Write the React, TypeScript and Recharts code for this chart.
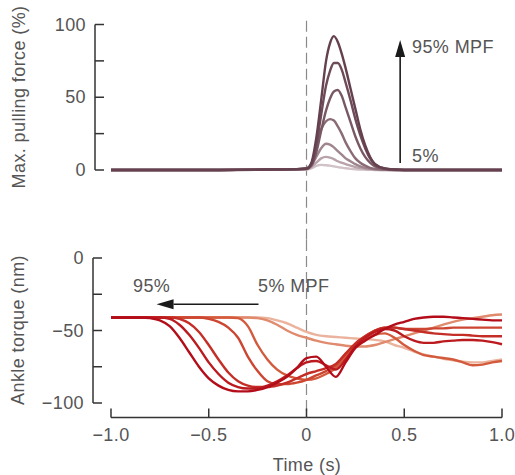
import React from 'react';
import { LineChart, Line, XAxis, YAxis, ReferenceLine } from 'recharts';

// ---- data ----
const TOP_TIMES = [-1, -0.5, -0.2, -0.05, 0, 0.025, 0.05, 0.075, 0.1, 0.12, 0.14, 0.16, 0.18, 0.2, 0.225, 0.25, 0.275, 0.3, 0.325, 0.35, 0.4, 0.45, 0.5, 0.75, 1];

// max pulling force (%) for each MPF level
const FORCE_95 = [0, 0, 0.3, 0.6, 1, 5, 22, 48, 75, 87, 92, 88, 80, 70, 56, 42, 28, 17, 9, 4, 1, 0.3, 0, 0, 0];
const FORCE_80 = [0, 0, 0.3, 0.6, 1, 4, 17, 38, 58, 68, 73.5, 73.5, 69, 60, 48, 35, 24, 15, 8, 4, 1, 0.3, 0, 0, 0];
const FORCE_65 = [0, 0, 0.3, 0.5, 0.8, 3, 12, 27, 41, 49, 54, 55, 51, 43, 33, 23, 15, 9, 5, 2.5, 0.8, 0.2, 0, 0, 0];
const FORCE_50 = [0, 0, 0.3, 0.5, 0.8, 4, 17, 28, 33.5, 35, 34, 30, 25, 19, 13, 8, 5, 3, 1.5, 0.8, 0.3, 0, 0, 0, 0];
const FORCE_35 = [0, 0, 0.2, 0.4, 0.7, 3, 9, 15, 18, 17.5, 15.5, 13, 10.5, 8, 6, 4, 2.5, 1.5, 1, 0.5, 0.2, 0, 0, 0, 0];
const FORCE_20 = [0, 0, 0.2, 0.3, 0.5, 2, 5, 8, 9, 8.5, 7.5, 6, 5, 4, 3, 2, 1.3, 0.8, 0.5, 0.3, 0, 0, 0, 0, 0];
const FORCE_5 = [0, 0, 0.1, 0.2, 0.3, 1.2, 2.8, 3.5, 3.3, 3, 2.5, 2, 1.6, 1.2, 0.8, 0.5, 0.3, 0.2, 0.1, 0, 0, 0, 0, 0, 0];

const BOTTOM_TIMES = [
  -1, -0.95, -0.9, -0.85, -0.8, -0.75, -0.7, -0.65, -0.6, -0.55, -0.5, -0.45, -0.4, -0.35, -0.3, -0.25, -0.2, -0.15, -0.1, -0.05,
  0, 0.05, 0.1, 0.15, 0.2, 0.25, 0.3, 0.35, 0.4, 0.45, 0.5, 0.55, 0.6, 0.65, 0.7, 0.75, 0.8, 0.85, 0.9, 0.95, 1,
];

// ankle torque (nm) for each MPF level
const TORQUE_95 = [-41, -41, -41, -41, -41.5, -43, -47, -55, -65, -75, -83, -88, -91, -92, -92, -91, -89, -86, -82, -76, -69, -68, -75, -82, -72, -62, -57, -53, -49, -46, -44, -42, -41, -40.5, -40.5, -41, -41.5, -42, -42.5, -43, -43];
const TORQUE_80 = [-41, -41, -41, -41, -41, -41, -42, -46, -53, -62, -72, -80, -86, -89, -90, -90, -88, -85, -81, -76, -72, -71, -74, -77, -70, -61, -55, -51, -49, -50, -54, -57, -58.5, -58.5, -57.5, -57, -56.5, -56.5, -57, -58, -59.5];
const TORQUE_65 = [-41, -41, -41, -41, -41, -41, -41, -42, -45, -51, -60, -70, -79, -85, -88, -89, -89, -88, -86, -83, -80, -78, -76, -73, -66, -59, -54, -50, -48, -48, -49, -50, -51, -52, -52.5, -53, -53, -53.5, -54, -54, -54];
const TORQUE_50 = [-41, -41, -41, -41, -41, -41, -41, -41, -41, -41, -42, -44, -48, -55, -68, -78, -85, -87, -87, -86, -84, -81, -78, -74, -66, -59, -54, -50, -48, -48, -49, -49, -49, -48.5, -48.5, -48, -48, -48, -48, -48, -48];
const TORQUE_35 = [-41, -41, -41, -41, -41, -41, -41, -41, -41, -41, -41, -41, -41, -41.5, -47, -60, -70, -77, -81, -83, -84, -83, -80, -76, -68, -61, -56, -53, -52, -55, -60, -64, -67, -68, -69, -70, -72, -74, -73.5, -72, -71];
const TORQUE_20 = [-41, -41, -41, -41, -41, -41, -41, -41, -41, -41, -41, -41, -41, -41, -41, -41.5, -43, -46, -50, -53, -55, -57, -58.5, -59.5, -60.5, -61, -61, -60, -58, -56, -54, -52, -50, -48, -46, -44, -42.5, -41.5, -40.5, -39.5, -39];
const TORQUE_5 = [-41, -41, -41, -41, -41, -41, -41, -41, -41, -41, -41, -41, -41, -41, -41, -41, -41.5, -43, -45, -48, -51, -53, -54, -54.5, -55, -55.5, -56, -56.5, -57.5, -60, -62, -64.5, -66.5, -68, -69.5, -70.5, -71.5, -72, -72, -71, -70];

const TOP_Y_TICKS = [0, 25, 50, 75, 100];
const BOTTOM_Y_TICKS = [-100, -75, -50, -25, 0];
const X_TICKS = [-1, -0.5, 0, 0.5, 1];
const Y_LABELLED = [0, 50, 100, -50, -100];

const topData = TOP_TIMES.map((t, i) => ({
  t,
  f95: FORCE_95[i],
  f80: FORCE_80[i],
  f65: FORCE_65[i],
  f50: FORCE_50[i],
  f35: FORCE_35[i],
  f20: FORCE_20[i],
  f5: FORCE_5[i],
}));

const bottomData = BOTTOM_TIMES.map((t, i) => ({
  t,
  a95: TORQUE_95[i],
  a80: TORQUE_80[i],
  a65: TORQUE_65[i],
  a50: TORQUE_50[i],
  a35: TORQUE_35[i],
  a20: TORQUE_20[i],
  a5: TORQUE_5[i],
}));

// lightest first so the dark curves sit on top
const TOP_SERIES = [
  { key: 'f5', color: '#d0c2c6' },
  { key: 'f20', color: '#b8a3aa' },
  { key: 'f35', color: '#9f858e' },
  { key: 'f50', color: '#8a6b76' },
  { key: 'f65', color: '#795866' },
  { key: 'f80', color: '#6e4b59' },
  { key: 'f95', color: '#65404f' },
];

const BOTTOM_SERIES = [
  { key: 'a5', color: '#ebb39e' },
  { key: 'a20', color: '#e08a6e' },
  { key: 'a35', color: '#d35a3c' },
  { key: 'a50', color: '#cc4632' },
  { key: 'a65', color: '#c42e26' },
  { key: 'a80', color: '#bb1a1f' },
  { key: 'a95', color: '#b30d1a' },
];

const FONT = '"Liberation Sans", Arial, sans-serif';
const TEXT_COLOR = '#555';
const AXIS_COLOR = '#333';
const SPACING = 0.4;

const fmt = (v: number, digits = 0) => {
  const s = Math.abs(v).toFixed(digits);
  return v < 0 ? `\u2212${s}` : s;
};

// y tick: inward tick mark, label on the left
const YTick = (props: any) => {
  const { x, y, payload } = props;
  const v = payload.value;
  return (
    <g>
      <line x1={x} x2={x + 9} y1={y} y2={y} stroke={AXIS_COLOR} strokeWidth={1.5} />
      {Y_LABELLED.includes(v) && (
        <text x={x - 9} y={y} textAnchor="end" dominantBaseline="central" fontFamily={FONT} fontSize={18} fill={TEXT_COLOR} letterSpacing={SPACING}>
          {fmt(v)}
        </text>
      )}
    </g>
  );
};

// x tick: tick mark points up, label below
const XTick = (props: any) => {
  const { x, y, payload } = props;
  const v = payload.value;
  return (
    <g>
      <line x1={x} x2={x} y1={y} y2={y - 9} stroke={AXIS_COLOR} strokeWidth={1.5} />
      <text x={x} y={y + 23} textAnchor="middle" fontFamily={FONT} fontSize={18} fill={TEXT_COLOR} letterSpacing={SPACING}>
        {v === 0 ? '0' : fmt(v, 1)}
      </text>
    </g>
  );
};

const arrowShape = (props: any) => {
  const { x1, y1, x2, y2 } = props;
  const dx = x2 - x1;
  const dy = y2 - y1;
  const len = Math.hypot(dx, dy) || 1;
  const ux = dx / len;
  const uy = dy / len;
  const headLen = 17;
  const half = 5;
  const bx = x2 - ux * headLen;
  const by = y2 - uy * headLen;
  return (
    <g>
      <line x1={x1} y1={y1} x2={bx} y2={by} stroke="#1a1a1a" strokeWidth={1.6} />
      <polygon
        points={`${x2},${y2} ${bx - uy * half},${by + ux * half} ${bx + uy * half},${by - ux * half}`}
        fill="#1a1a1a"
      />
    </g>
  );
};

export default function App() {
  return (
    <div style={{ position: 'absolute', left: 0, top: 0, width: 515, height: 475, background: '#fff' }}>
      {/* force panel */}
      <div style={{ position: 'absolute', left: 0, top: 0 }}>
        <LineChart width={515} height={240} data={topData} margin={{ top: 24.5, right: 13, left: 0, bottom: 70 }}>
          <XAxis dataKey="t" type="number" domain={[-1.082, 1]} hide />
          <YAxis
            type="number"
            domain={[0, 100]}
            ticks={TOP_Y_TICKS}
            interval={0}
            width={95}
            tickSize={0}
            tickMargin={0}
            tickLine={false}
            axisLine={{ stroke: AXIS_COLOR, strokeWidth: 1.5 }}
            tick={(p: any) => <YTick {...p} />}
          />
          <ReferenceLine
            segment={[{ x: 0, y: 102.5 }, { x: 0, y: -48.2 }]}
            ifOverflow="visible"
            stroke="#8a8a8a"
            strokeWidth={1.2}
            strokeDasharray="11 5"
          />
          {TOP_SERIES.map((s) => (
            <Line
              key={s.key}
              dataKey={s.key}
              type="monotone"
              stroke={s.color}
              strokeWidth={2.4}
              dot={false}
              isAnimationActive={false}
            />
          ))}
          <ReferenceLine
            segment={[{ x: 0.479, y: 4.8 }, { x: 0.479, y: 89.3 }]}
            ifOverflow="visible"
            shape={arrowShape}
          />
        </LineChart>
      </div>

      {/* torque panel */}
      <div style={{ position: 'absolute', left: 0, top: 240 }}>
        <LineChart width={515} height={235} data={bottomData} margin={{ top: 18, right: 13, left: 0, bottom: 27.5 }}>
          <XAxis
            dataKey="t"
            type="number"
            domain={[-1.092, 1]}
            ticks={X_TICKS}
            interval={0}
            height={30}
            tickSize={0}
            tickMargin={0}
            tickLine={false}
            axisLine={false}
            tick={(p: any) => <XTick {...p} />}
          />
          <YAxis
            type="number"
            domain={[-110, 0]}
            ticks={BOTTOM_Y_TICKS}
            interval={0}
            width={93}
            tickSize={0}
            tickMargin={0}
            tickLine={false}
            axisLine={false}
            tick={(p: any) => <YTick {...p} />}
          />
          {/* offset axis lines */}
          <ReferenceLine
            segment={[{ x: -1.092, y: 0 }, { x: -1.092, y: -100 }]}
            ifOverflow="visible"
            stroke={AXIS_COLOR}
            strokeWidth={1.5}
          />
          <ReferenceLine
            segment={[{ x: -1, y: -110 }, { x: 1, y: -110 }]}
            ifOverflow="visible"
            stroke={AXIS_COLOR}
            strokeWidth={1.5}
          />
          <ReferenceLine
            segment={[{ x: 0, y: 12.5 }, { x: 0, y: -110 }]}
            ifOverflow="visible"
            stroke="#8a8a8a"
            strokeWidth={1.2}
            strokeDasharray="11 5"
          />
          {BOTTOM_SERIES.map((s) => (
            <Line
              key={s.key}
              dataKey={s.key}
              type="monotone"
              stroke={s.color}
              strokeWidth={2.4}
              dot={false}
              isAnimationActive={false}
            />
          ))}
          <ReferenceLine
            segment={[{ x: -0.2455, y: -31.9 }, { x: -0.767, y: -31.9 }]}
            ifOverflow="visible"
            shape={arrowShape}
          />
        </LineChart>
      </div>

      {/* titles and annotations */}
      <svg
        width={515}
        height={475}
        style={{ position: 'absolute', left: 0, top: 0, pointerEvents: 'none' }}
        fontFamily={FONT}
        fontSize={18}
        fill={TEXT_COLOR}
        letterSpacing={SPACING}
      >
        <text x={25} y={97} textAnchor="middle" transform="rotate(-90 25 97)">
          Max. pulling force (%)
        </text>
        <text x={24} y={330} textAnchor="middle" transform="rotate(-90 24 330)">
          Ankle torque (nm)
        </text>
        <text x={307} y={471} textAnchor="middle">
          Time (s)
        </text>
        <text x={412} y={53}>95% MPF</text>
        <text x={412} y={162}>5%</text>
        <text x={133} y={292}>95%</text>
        <text x={258} y={292}>5% MPF</text>
      </svg>
    </div>
  );
}
